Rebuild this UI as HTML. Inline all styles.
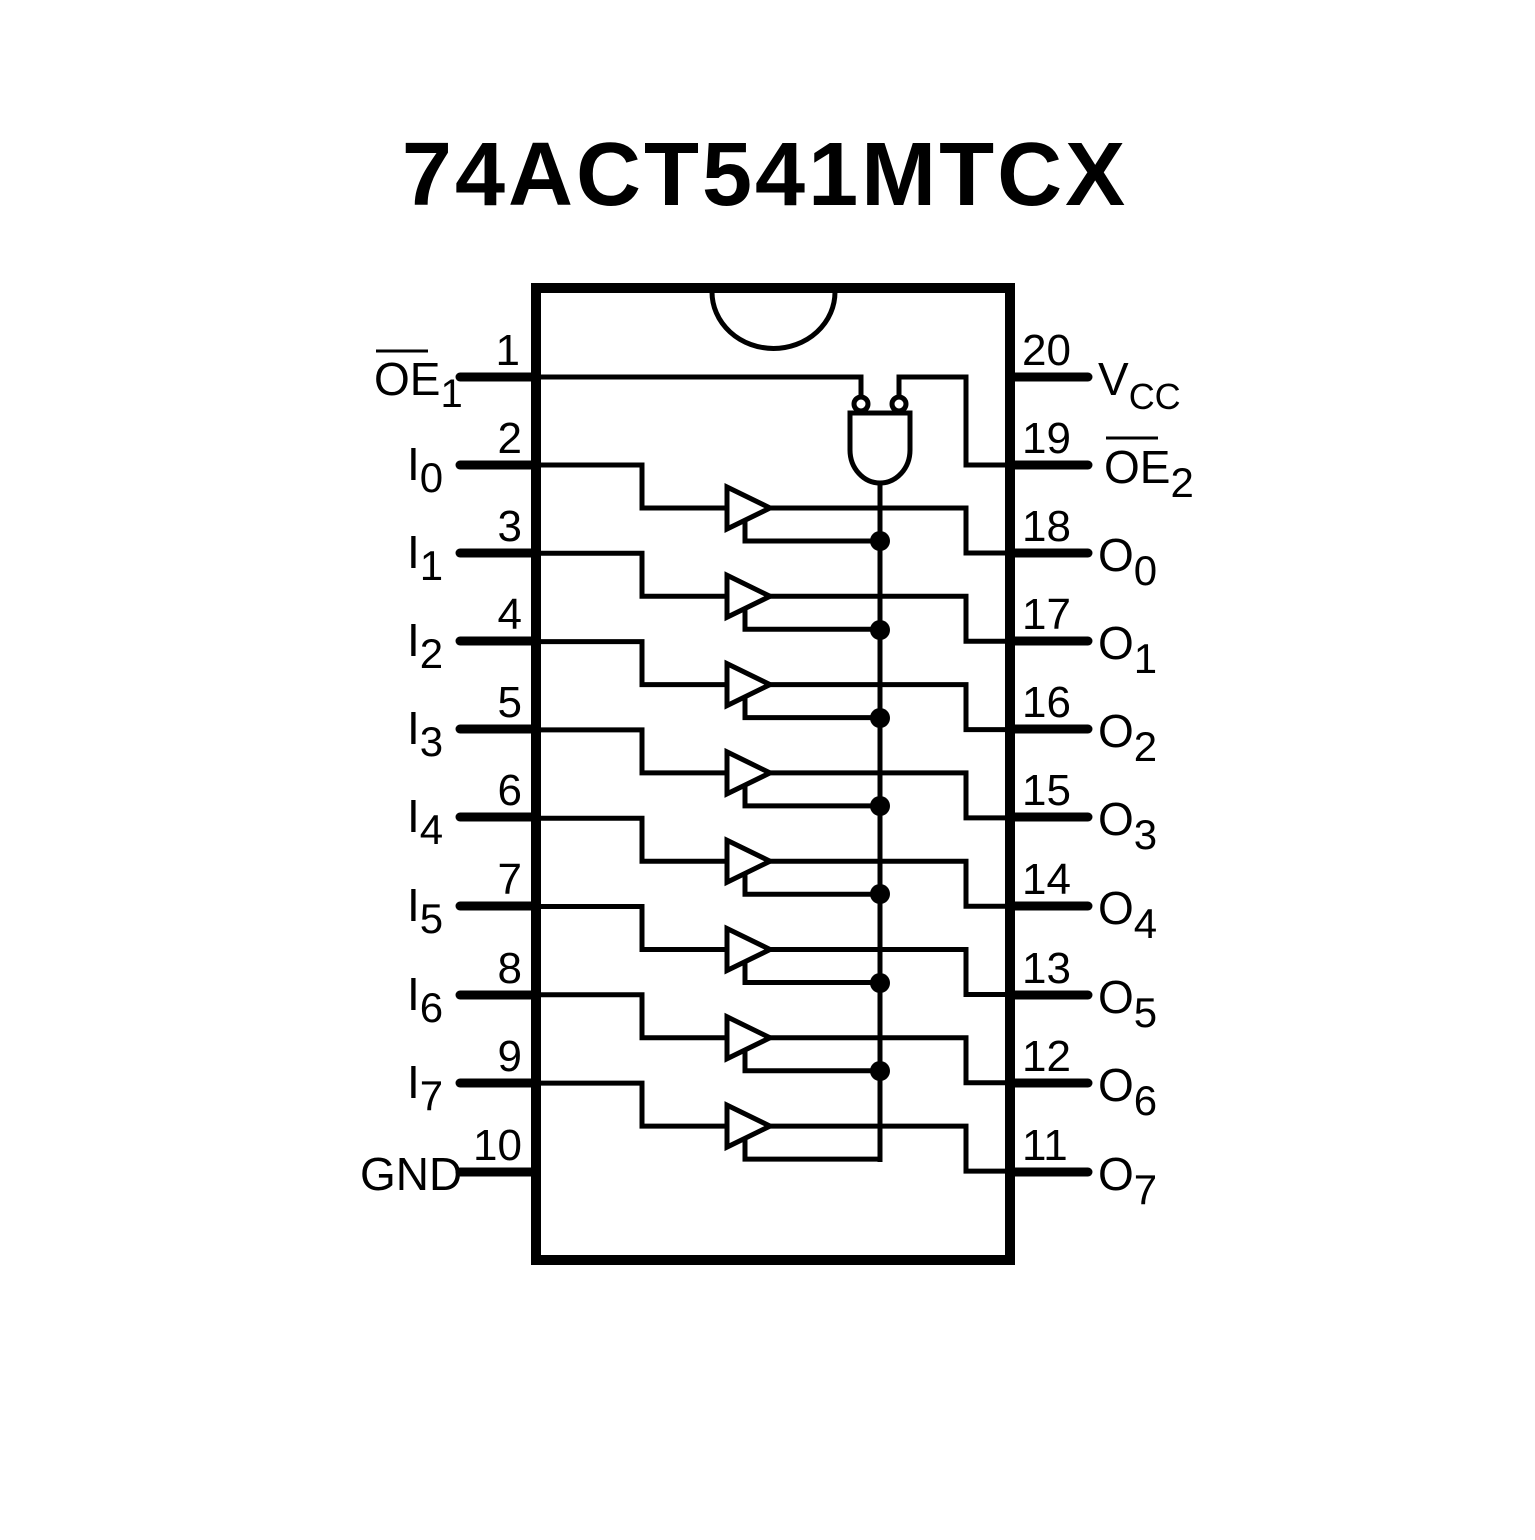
<!DOCTYPE html>
<html><head><style>body{margin:0;background:#fff}</style></head><body>
<svg width="1535" height="1535" viewBox="0 0 1535 1535" xmlns="http://www.w3.org/2000/svg" font-family="Liberation Sans, sans-serif">
<rect width="1535" height="1535" fill="#fff"/>
<text x="765" y="205" font-size="90" font-weight="bold" text-anchor="middle" letter-spacing="3">74ACT541MTCX</text>
<rect x="536" y="288" width="474" height="972" fill="none" stroke="#000" stroke-width="10"/>
<path d="M712 292 A61 56 0 0 0 835 292" fill="none" stroke="#000" stroke-width="5"/>
<g stroke="#000" stroke-width="9" stroke-linecap="round">
<line x1="460" y1="377" x2="536" y2="377"/><line x1="460" y1="465" x2="536" y2="465"/><line x1="460" y1="553" x2="536" y2="553"/><line x1="460" y1="641" x2="536" y2="641"/><line x1="460" y1="729" x2="536" y2="729"/><line x1="460" y1="817" x2="536" y2="817"/><line x1="460" y1="906" x2="536" y2="906"/><line x1="460" y1="995" x2="536" y2="995"/><line x1="460" y1="1083" x2="536" y2="1083"/><line x1="460" y1="1172" x2="536" y2="1172"/>
<line x1="1010" y1="377" x2="1088" y2="377"/><line x1="1010" y1="465" x2="1088" y2="465"/><line x1="1010" y1="553" x2="1088" y2="553"/><line x1="1010" y1="641" x2="1088" y2="641"/><line x1="1010" y1="729" x2="1088" y2="729"/><line x1="1010" y1="817" x2="1088" y2="817"/><line x1="1010" y1="906" x2="1088" y2="906"/><line x1="1010" y1="995" x2="1088" y2="995"/><line x1="1010" y1="1083" x2="1088" y2="1083"/><line x1="1010" y1="1172" x2="1088" y2="1172"/>
</g>
<g fill="none" stroke="#000" stroke-width="5">
<polyline points="536,377 861,377 861,397"/>
<polyline points="1010,465 966,465 966,377 899,377 899,397"/>
<circle cx="861" cy="404" r="7"/><circle cx="899" cy="404" r="7"/>
<path d="M850 413 H910 V450 A30 33 0 0 1 850 450 Z"/>
<line x1="880" y1="483" x2="880" y2="1162"/>
</g>
<g id="b" fill="none" stroke="#000" stroke-width="5">
<polyline points="536,465 642,465 642,508 727,508"/>
<path d="M727 487 L770 508 L727 529 Z"/>
<polyline points="770,508 966,508 966,553 1010,553"/>
<polyline points="745,520 745,541 880,541"/>
</g>
<g fill="#000">
<use href="#b" transform="translate(0,88.3)"/>
<use href="#b" transform="translate(0,176.6)"/>
<use href="#b" transform="translate(0,264.9)"/>
<use href="#b" transform="translate(0,353.2)"/>
<use href="#b" transform="translate(0,441.5)"/>
<use href="#b" transform="translate(0,529.8)"/>
<use href="#b" transform="translate(0,618.1)"/>
</g>
<g fill="#000">
<circle cx="880" cy="541" r="10"/><circle cx="880" cy="630" r="10"/><circle cx="880" cy="718" r="10"/><circle cx="880" cy="806" r="10"/><circle cx="880" cy="894" r="10"/><circle cx="880" cy="983" r="10"/><circle cx="880" cy="1071" r="10"/>
</g>
<g font-size="44" text-anchor="end">
<text x="520" y="365">1</text><text x="522" y="453">2</text><text x="522" y="541">3</text><text x="522" y="629">4</text><text x="522" y="717">5</text><text x="522" y="805">6</text><text x="522" y="894">7</text><text x="522" y="983">8</text><text x="522" y="1071">9</text><text x="522" y="1160">10</text>
</g>
<g font-size="44">
<text x="1022" y="365">20</text><text x="1022" y="453">19</text><text x="1022" y="541">18</text><text x="1022" y="629">17</text><text x="1022" y="717">16</text><text x="1022" y="805">15</text><text x="1022" y="894">14</text><text x="1022" y="983">13</text><text x="1022" y="1071">12</text><text x="1022" y="1160">11</text>
</g>
<g font-size="46">
<text x="374" y="395">OE<tspan font-size="40" dy="12">1</tspan></text>
<line x1="376" y1="351" x2="428" y2="351" stroke="#000" stroke-width="3"/>
<text x="407" y="480">I<tspan font-size="42" dy="12">0</tspan></text>
<text x="407" y="568">I<tspan font-size="42" dy="12">1</tspan></text>
<text x="407" y="656">I<tspan font-size="42" dy="12">2</tspan></text>
<text x="407" y="744">I<tspan font-size="42" dy="12">3</tspan></text>
<text x="407" y="832">I<tspan font-size="42" dy="12">4</tspan></text>
<text x="407" y="921">I<tspan font-size="42" dy="12">5</tspan></text>
<text x="407" y="1010">I<tspan font-size="42" dy="12">6</tspan></text>
<text x="407" y="1098">I<tspan font-size="42" dy="12">7</tspan></text>
<text x="360" y="1190">GND</text>
<text x="1098" y="395">V<tspan font-size="36" dy="14">CC</tspan></text>
<text x="1104" y="483">OE<tspan font-size="42" dy="14">2</tspan></text>
<line x1="1106" y1="438" x2="1158" y2="438" stroke="#000" stroke-width="3"/>
<text x="1098" y="571">O<tspan font-size="42" dy="14">0</tspan></text>
<text x="1098" y="659">O<tspan font-size="42" dy="14">1</tspan></text>
<text x="1098" y="747">O<tspan font-size="42" dy="14">2</tspan></text>
<text x="1098" y="835">O<tspan font-size="42" dy="14">3</tspan></text>
<text x="1098" y="924">O<tspan font-size="42" dy="14">4</tspan></text>
<text x="1098" y="1013">O<tspan font-size="42" dy="14">5</tspan></text>
<text x="1098" y="1101">O<tspan font-size="42" dy="14">6</tspan></text>
<text x="1098" y="1190">O<tspan font-size="42" dy="14">7</tspan></text>
</g>
</svg>
</body></html>
